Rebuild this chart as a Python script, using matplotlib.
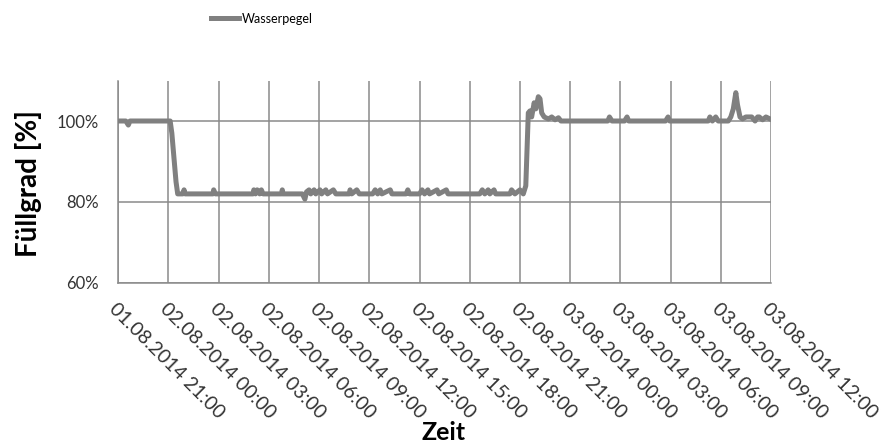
import numpy as np
import pandas as pd
import matplotlib
matplotlib.use("Agg")
import matplotlib.pyplot as plt
import matplotlib.dates as mdates

# hours after 01.08.2014 21:00 and water level (%)
hours = [0.0, 0.45, 0.6, 0.7, 3.1, 3.2, 3.45, 3.55, 3.85, 3.93, 4.0,
         5.65, 5.7, 5.8, 8.05, 8.1, 8.2, 8.3, 8.45, 8.55, 8.65,
         9.75, 9.8, 9.85, 11.0, 11.15, 11.25, 11.4, 11.5, 11.7, 11.8,
         12.05, 12.15, 12.4, 12.5, 12.85, 13.0, 13.8, 13.85, 13.95, 14.25, 14.4,
         15.2, 15.35, 15.5, 15.65, 15.75, 16.25, 16.35, 17.2, 17.3, 17.4,
         18.0, 18.15, 18.3, 18.5, 18.6, 19.05, 19.15, 19.6, 19.7,
         21.6, 21.75, 21.9, 22.1, 22.2, 22.45, 22.55,
         23.4, 23.5, 23.7, 24.0, 24.2,
         24.35, 24.5, 24.6, 24.7, 24.85, 24.95, 25.1, 25.2, 25.3, 25.45,
         25.7, 25.9, 26.1, 26.3, 26.45,
         29.25, 29.35, 29.5, 30.25, 30.4, 30.5, 32.7, 32.85, 32.95,
         35.25, 35.35, 35.5, 35.7, 35.85,
         36.45, 36.6, 36.75, 36.9, 37.0, 37.15, 37.3, 37.5, 37.65, 37.85,
         38.05, 38.2, 38.3, 38.5, 38.7, 38.95]
level = [100, 100, 99.0, 100, 100, 97, 85, 82, 82, 83, 82,
         82, 83, 82, 82, 83, 82, 83, 82, 83, 82,
         82, 83, 82, 82, 80.7, 82.5, 83, 82, 83, 82,
         83, 82, 83, 82, 83, 82, 82, 83, 82, 83, 82,
         82, 83, 82, 83, 82, 83, 82, 82, 83, 82,
         82, 83, 82, 83, 82, 83, 82, 83, 82,
         82, 83, 82, 83, 82, 83, 82,
         82, 83, 82, 83, 82,
         84, 102, 102.5, 101, 104.5, 103, 106, 105.5, 102, 101,
         100.5, 101, 100.3, 100.8, 100,
         100, 101, 100, 100, 101, 100, 100, 101, 100,
         100, 101, 100, 101, 100,
         100, 101, 103, 107, 104, 101, 100.5, 101, 101, 101,
         100, 101, 101, 100.3, 101, 100.5]

start = pd.Timestamp("2014-08-01 21:00")
end = pd.Timestamp("2014-08-03 12:00")
times = start + pd.to_timedelta(hours, unit="h")
y_ticks = [0.6, 0.8, 1.0]

plt.rcParams['font.family'] = ['Lato', 'DejaVu Sans']

fig = plt.figure(figsize=(8.88, 4.47), dpi=100)
ax = fig.add_axes([0.1332, 0.3669, 0.7350, 0.4530])

grey = '#8a8a8a'
ax.plot(times, np.array(level) / 100, color='#808080', lw=3.6,
        solid_joinstyle='round', label='Wasserpegel', zorder=3)

ax.set_xlim(start, end)
ax.set_ylim(0.6, 1.1)
ax.set_yticks(y_ticks)
ax.yaxis.set_major_formatter(matplotlib.ticker.FuncFormatter(lambda v, p: '%d%%' % round(v * 100)))

ax.xaxis.set_major_locator(mdates.HourLocator(byhour=range(0, 24, 3)))
ax.xaxis.set_major_formatter(mdates.DateFormatter('%d.%m.%Y %H:%M'))

ax.grid(True, color=grey, lw=1.1)
ax.tick_params(length=0, colors='#333333')
ax.tick_params(axis='y', labelsize=12, pad=14)
ax.tick_params(axis='x', labelsize=14, pad=12)
for lbl in ax.get_xticklabels():
    lbl.set_rotation(-45)
    lbl.set_ha('left')
    lbl.set_va('top')
    lbl.set_rotation_mode('anchor')

for s in ['top', 'right']:
    ax.spines[s].set_visible(False)
for s in ['left', 'bottom']:
    ax.spines[s].set_color(grey)
    ax.spines[s].set_linewidth(1.1)

fig.text(0.032, 0.59, 'Füllgrad [%]', rotation=90, fontsize=20,
         fontweight='bold', ha='center', va='center')
fig.text(0.5, 0.033, 'Zeit', fontsize=18, fontweight='bold',
         ha='center', va='center')

fig.legend(loc='center', bbox_to_anchor=(0.295, 0.958), frameon=False,
           fontsize=9, handlelength=2.2, handletextpad=0.2)

fig.savefig('out.png', dpi=100)
